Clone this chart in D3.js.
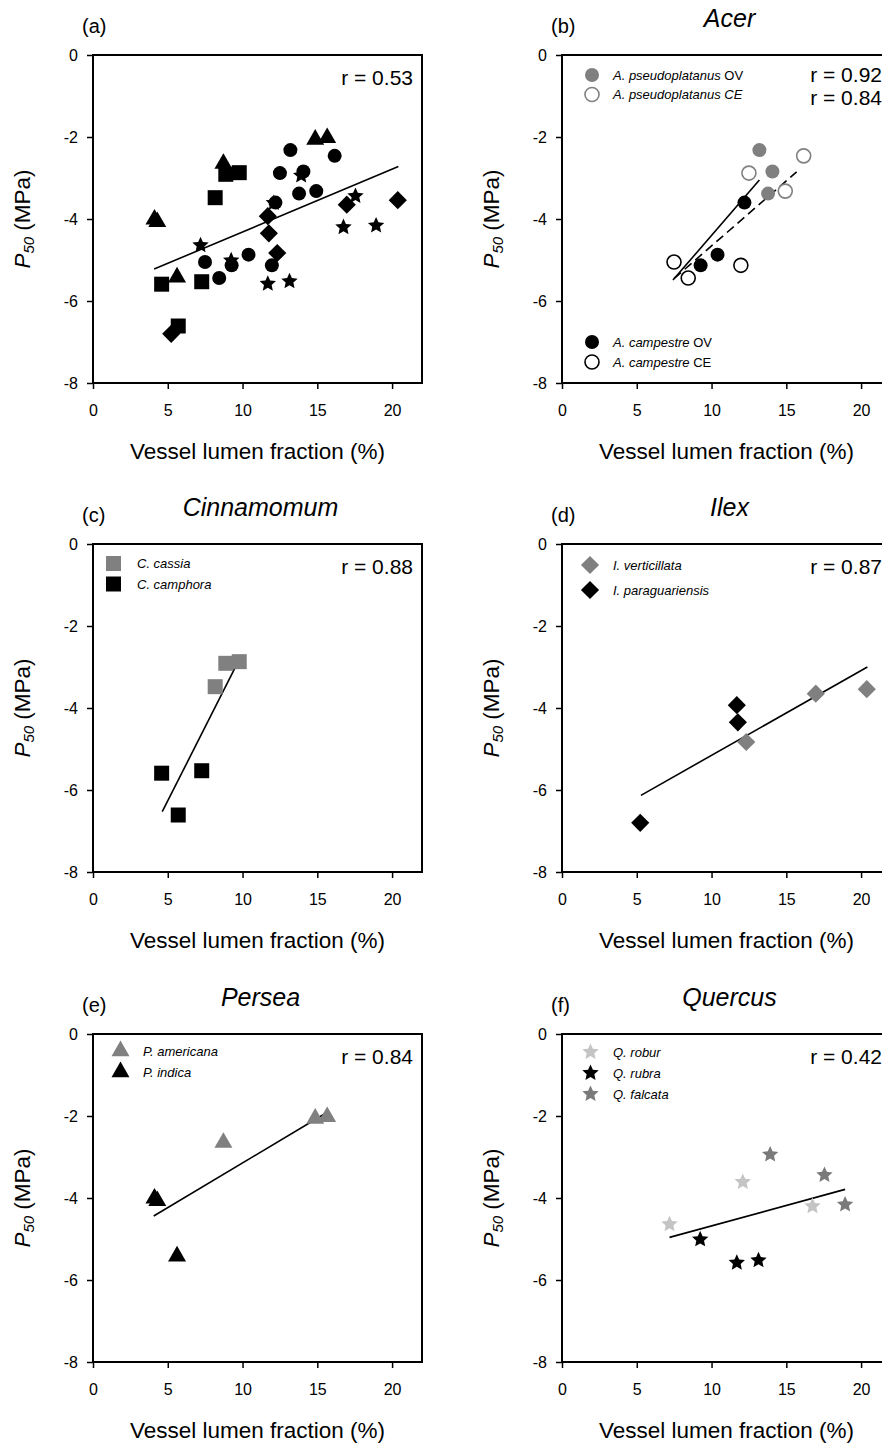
<!DOCTYPE html>
<html>
<head>
<meta charset="utf-8">
<script src="https://cdn.jsdelivr.net/npm/d3@7"></script>
<style>
  body { margin: 0; background: #fff; }
  svg { display: block; font-family: "Liberation Sans", Arial, sans-serif; }
</style>
</head>
<body>
<svg width="882" height="1443"></svg>
<script>
// ---- data: [vessel lumen fraction %, P50 MPa] ----

// Acer
const acerPseudoOV = [[13.2, -2.32], [14.07, -2.84], [13.78, -3.38]];
const acerPseudoCE = [[12.5, -2.88], [16.16, -2.46], [14.93, -3.32]];
const acerCampOV = [[12.2, -3.6], [10.4, -4.87], [9.27, -5.13]];
const acerCampCE = [[7.49, -5.05], [8.44, -5.44], [11.96, -5.13]];
const acerFitSolid = [[7.42, -5.49], [13.2, -3.05]];
const acerFitDashed = [[7.5, -5.45], [15.69, -2.85]];

// Cinnamomum
const cinCassia = [[8.88, -2.91], [9.78, -2.87], [8.17, -3.48]];
const cinCamphora = [[4.59, -5.59], [7.27, -5.53], [5.7, -6.61]];
const cinFit = [[4.63, -6.53], [9.8, -2.8]];

// Ilex
const ilexVerticillata = [[16.97, -3.65], [20.38, -3.54], [12.32, -4.83]];
const ilexParaguariensis = [[11.69, -3.93], [11.76, -4.35], [5.23, -6.8]];
const ilexFit = [[5.28, -6.13], [20.42, -3.0]];

// Persea
const perseaAmericana = [[8.72, -2.65], [14.86, -2.06], [15.66, -2.02]];
const perseaIndica = [[4.11, -4.01], [4.3, -4.07], [5.62, -5.42]];
const perseaFit = [[4.06, -4.44], [15.53, -1.94]];

// Quercus
const quercusRobur = [[7.19, -4.64], [12.09, -3.61], [16.75, -4.2]];
const quercusRubra = [[9.24, -5.01], [11.69, -5.58], [13.14, -5.52]];
const quercusFalcata = [[13.92, -2.94], [17.55, -3.44], [18.93, -4.16]];
const quercusFit = [[7.19, -4.96], [18.93, -3.79]];

// all genera pooled
const allFit = [[4.09, -5.22], [20.42, -2.72]];

const xTicks = [0, 5, 10, 15, 20];
const yTicks = [0, -2, -4, -6, -8];
const rLabels = {
  a: ["r = 0.53"], b: ["r = 0.92", "r = 0.84"], c: ["r = 0.88"],
  d: ["r = 0.87"], e: ["r = 0.84"], f: ["r = 0.42"]
};

// ---- layout ----
const svg = d3.select("svg");
const innerW = 329, innerH = 328;
const GRAY = "#808080", LIGHT = "#c4c4c4", FALC = "#7a7a7a";

const x = d3.scaleLinear().domain([0, 22]).range([0, innerW]);
const y = d3.scaleLinear().domain([-8, 0]).range([innerH, 0]);

// a plumper five-point star than d3.symbolStar (size = outer radius squared)
const fatStar = {
  draw(context, size) {
    const R = Math.sqrt(size), r = R * 0.47;
    for (let i = 0; i < 10; ++i) {
      const a = -Math.PI / 2 + (i * Math.PI) / 5;
      const rad = i % 2 ? r : R;
      if (i === 0) context.moveTo(rad * Math.cos(a), rad * Math.sin(a));
      else context.lineTo(rad * Math.cos(a), rad * Math.sin(a));
    }
    context.closePath();
  }
};

const shapes = {
  circle: d3.symbol(d3.symbolCircle, Math.PI * 49),
  square: d3.symbol(d3.symbolSquare, 225),
  diamond: d3.symbol(d3.symbolSquare, 165),
  triangle: d3.symbol(d3.symbolTriangle, 140),
  star: d3.symbol(fatStar, 74)
};

const black = (data, shape) => ({ data, shape, fill: "#000" });

const panels = [
  {
    key: "a", left: 93, top: 55, title: "",
    series: [
      black(acerPseudoOV.concat(acerPseudoCE, acerCampOV, acerCampCE), "circle"),
      black(cinCassia.concat(cinCamphora), "square"),
      black(ilexVerticillata.concat(ilexParaguariensis), "diamond"),
      black(perseaAmericana.concat(perseaIndica), "triangle"),
      black(quercusRobur.concat(quercusRubra, quercusFalcata), "star")
    ],
    fits: [{ data: allFit }],
    rY: [30], legend: []
  },
  {
    key: "b", left: 562, top: 55, title: "Acer",
    series: [
      { data: acerCampCE, shape: "circle", fill: "#fff", stroke: "#000" },
      { data: acerPseudoCE, shape: "circle", fill: "#fff", stroke: GRAY },
      { data: acerPseudoOV, shape: "circle", fill: GRAY },
      { data: acerCampOV, shape: "circle", fill: "#000" }
    ],
    fits: [{ data: acerFitSolid }, { data: acerFitDashed, dash: "9,5" }],
    rY: [27, 50],
    legend: [
      { lx: 30, ly: 20, tx: 51, ty: 24.5, shape: "circle", fill: GRAY, it: "A. pseudoplatanus", rest: " OV" },
      { lx: 30, ly: 39.5, tx: 51, ty: 44, shape: "circle", fill: "#fff", stroke: GRAY, it: "A. pseudoplatanus CE", rest: "" },
      { lx: 30, ly: 287, tx: 51, ty: 291.5, shape: "circle", fill: "#000", it: "A. campestre", rest: " OV" },
      { lx: 30, ly: 307, tx: 51, ty: 311.5, shape: "circle", fill: "#fff", stroke: "#000", it: "A. campestre", rest: " CE" }
    ]
  },
  {
    key: "c", left: 93, top: 544, title: "Cinnamomum",
    series: [
      { data: cinCassia, shape: "square", fill: GRAY },
      { data: cinCamphora, shape: "square", fill: "#000" }
    ],
    fits: [{ data: cinFit }],
    rY: [29.5],
    legend: [
      { lx: 20.5, ly: 19.5, tx: 44, ty: 24, shape: "square", fill: GRAY, it: "C. cassia", rest: "" },
      { lx: 20.5, ly: 40, tx: 44, ty: 44.5, shape: "square", fill: "#000", it: "C. camphora", rest: "" }
    ]
  },
  {
    key: "d", left: 562, top: 544, title: "Ilex",
    series: [
      { data: ilexVerticillata, shape: "diamond", fill: GRAY },
      { data: ilexParaguariensis, shape: "diamond", fill: "#000" }
    ],
    fits: [{ data: ilexFit }],
    rY: [29.5],
    legend: [
      { lx: 28, ly: 21, tx: 51, ty: 25.5, shape: "diamond", fill: GRAY, it: "I. verticillata", rest: "" },
      { lx: 28, ly: 46, tx: 51, ty: 50.5, shape: "diamond", fill: "#000", it: "I. paraguariensis", rest: "" }
    ]
  },
  {
    key: "e", left: 93, top: 1034, title: "Persea",
    series: [
      { data: perseaAmericana, shape: "triangle", fill: GRAY },
      { data: perseaIndica, shape: "triangle", fill: "#000" }
    ],
    fits: [{ data: perseaFit }],
    rY: [29.5],
    legend: [
      { lx: 27.5, ly: 17, tx: 50, ty: 22, shape: "triangle", fill: GRAY, it: "P. americana", rest: "" },
      { lx: 27.5, ly: 38, tx: 50, ty: 42.5, shape: "triangle", fill: "#000", it: "P. indica", rest: "" }
    ]
  },
  {
    key: "f", left: 562, top: 1034, title: "Quercus",
    series: [
      { data: quercusRobur, shape: "star", fill: LIGHT },
      { data: quercusRubra, shape: "star", fill: "#000" },
      { data: quercusFalcata, shape: "star", fill: FALC }
    ],
    fits: [{ data: quercusFit }],
    rY: [29.5],
    legend: [
      { lx: 28.5, ly: 18, tx: 51, ty: 22.5, shape: "star", fill: LIGHT, it: "Q. robur", rest: "" },
      { lx: 28.5, ly: 39, tx: 51, ty: 43.5, shape: "star", fill: "#000", it: "Q. rubra", rest: "" },
      { lx: 28.5, ly: 60, tx: 51, ty: 64.5, shape: "star", fill: FALC, it: "Q. falcata", rest: "" }
    ]
  }
];

const line = d3.line().x((d) => x(d[0])).y((d) => y(d[1]));

panels.forEach((p) => {
  const g = svg.append("g").attr("transform", `translate(${p.left},${p.top})`);

  // panel letter and genus title
  g.append("text")
    .attr("x", -11).attr("y", -22)
    .style("font-size", "20px")
    .text(`(${p.key})`);

  g.append("text")
    .attr("x", innerW / 2 + 3).attr("y", -28)
    .attr("text-anchor", "middle")
    .style("font-size", "25px").style("font-style", "italic")
    .text(p.title);

  // axes
  const xAxisG = g.append("g")
    .attr("transform", `translate(0,${innerH})`)
    .call(d3.axisBottom(x).tickValues(xTicks).tickSize(6).tickPadding(16).tickFormat((d) => String(d)));
  const yAxisG = g.append("g")
    .call(d3.axisLeft(y).tickValues(yTicks).tickSize(6).tickPadding(9).tickFormat((d) => String(d)));
  [xAxisG, yAxisG].forEach((a) => {
    a.select(".domain").remove();
    a.attr("font-family", null).attr("font-size", null);
    a.selectAll("line").attr("stroke-width", 1.5);
    a.selectAll("text").style("font-size", "16px").attr("fill", "#000");
  });

  // frame
  g.append("rect")
    .attr("width", innerW).attr("height", innerH)
    .attr("fill", "none").attr("stroke", "#000").attr("stroke-width", 2);

  // axis titles
  g.append("text")
    .attr("x", innerW / 2).attr("y", innerH + 76)
    .attr("text-anchor", "middle")
    .style("font-size", "22.5px")
    .text("Vessel lumen fraction (%)");

  const yl = g.append("text")
    .attr("transform", `translate(-63,${innerH / 2}) rotate(-90)`)
    .attr("text-anchor", "middle")
    .style("font-size", "22.5px");
  yl.append("tspan").style("font-style", "italic").text("P");
  yl.append("tspan").style("font-style", "italic").style("font-size", "15px").attr("dy", 4).text("50");
  yl.append("tspan").attr("dy", -4).text(" (MPa)");

  // fit lines
  p.fits.forEach((f) => {
    g.append("path")
      .attr("d", line(f.data))
      .attr("fill", "none").attr("stroke", "#000").attr("stroke-width", 1.6)
      .attr("stroke-dasharray", f.dash || null);
  });

  // points
  p.series.forEach((s) => {
    g.append("g").selectAll("path")
      .data(s.data)
      .join("path")
      .attr("d", shapes[s.shape]())
      .attr("transform", (d) => `translate(${x(d[0])},${y(d[1])})` + (s.shape === "diamond" ? " rotate(45)" : ""))
      .attr("fill", s.fill)
      .attr("stroke", s.stroke || "none")
      .attr("stroke-width", s.stroke ? 1.6 : 0);
  });

  // r labels
  p.rY.forEach((ry, i) => {
    g.append("text")
      .attr("x", innerW - 9).attr("y", ry)
      .attr("text-anchor", "end")
      .style("font-size", "21px")
      .text(rLabels[p.key][i]);
  });

  // legend
  p.legend.forEach((l) => {
    g.append("path")
      .attr("d", shapes[l.shape]())
      .attr("transform", `translate(${l.lx},${l.ly})` + (l.shape === "diamond" ? " rotate(45)" : ""))
      .attr("fill", l.fill)
      .attr("stroke", l.stroke || "none")
      .attr("stroke-width", l.stroke ? 1.6 : 0);
    const t = g.append("text")
      .attr("x", l.tx).attr("y", l.ty)
      .style("font-size", "13px");
    t.append("tspan").style("font-style", "italic").text(l.it);
    if (l.rest) t.append("tspan").text(l.rest);
  });
});
</script>
</body>
</html>
